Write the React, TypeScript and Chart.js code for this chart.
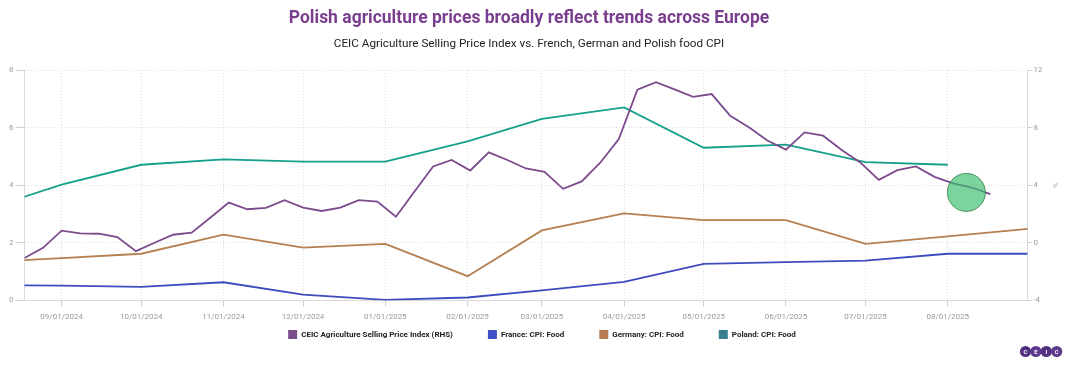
import React, { useEffect, useRef } from 'react';
import { Chart, registerables } from 'chart.js';

Chart.register(...registerables);

const titleText = 'Polish agriculture prices broadly reflect trends across Europe';
const subtitleText = 'CEIC Agriculture Selling Price Index vs. French, German and Polish food CPI';

const seriesNames = [
  'CEIC Agriculture Selling Price Index (RHS)',
  'France: CPI: Food',
  'Germany: CPI: Food',
  'Poland: CPI: Food',
];
const lineColors = ['#7b4b8e', '#3d4bbf', '#b57f50', '#14a08c'];
const legendColors = ['#7a4f8c', '#4150c8', '#b97c52', '#3a7f91'];

// weekly agriculture selling price index (RHS, % y/y)
const agriDates = [
  '2024-08-18', '2024-08-25', '2024-09-01', '2024-09-08', '2024-09-15', '2024-09-22', '2024-09-29',
  '2024-10-06', '2024-10-13', '2024-10-20', '2024-10-27', '2024-11-03', '2024-11-10', '2024-11-17',
  '2024-11-24', '2024-12-01', '2024-12-08', '2024-12-15', '2024-12-22', '2024-12-29', '2025-01-05',
  '2025-01-12', '2025-01-19', '2025-01-26', '2025-02-02', '2025-02-09', '2025-02-16', '2025-02-23',
  '2025-03-02', '2025-03-09', '2025-03-16', '2025-03-23', '2025-03-30', '2025-04-06', '2025-04-13',
  '2025-04-20', '2025-04-27', '2025-05-04', '2025-05-11', '2025-05-18', '2025-05-25', '2025-06-01',
  '2025-06-08', '2025-06-15', '2025-06-22', '2025-06-29', '2025-07-06', '2025-07-13', '2025-07-20',
  '2025-07-27', '2025-08-03', '2025-08-10', '2025-08-17',
];
const agriValues = [
  -1.05, -0.35, 0.84, 0.65, 0.63, 0.4, -0.58, 0.0, 0.56, 0.7,
  1.74, 2.79, 2.33, 2.42, 2.96, 2.44, 2.21, 2.44, 2.96, 2.86,
  1.81, 3.56, 5.3, 5.75, 5.02, 6.28, 5.75, 5.16, 4.93, 3.75,
  4.26, 5.56, 7.21, 10.63, 11.16, 10.65, 10.14, 10.33, 8.82, 8.02,
  7.1, 6.47, 7.67, 7.44, 6.45, 5.58, 4.37, 5.05, 5.3, 4.58,
  4.12, 3.84, 3.38,
];

// monthly food CPI (LHS, % y/y)
const cpiDates = [
  '2024-08-01', '2024-09-01', '2024-10-01', '2024-11-01', '2024-12-01', '2025-01-01', '2025-02-01',
  '2025-03-01', '2025-04-01', '2025-05-01', '2025-06-01', '2025-07-01', '2025-08-01', '2025-09-01',
];
const franceCpi = [0.53, 0.51, 0.47, 0.63, 0.2, 0.02, 0.1, 0.35, 0.64, 1.27, 1.33, 1.38, 1.62, 1.62];
const germanyCpi = [1.31, 1.47, 1.62, 2.28, 1.83, 1.96, 0.84, 2.43, 3.02, 2.79, 2.79, 1.96, 2.22, 2.49];
const polandCpi = [3.09, 4.02, 4.71, 4.9, 4.82, 4.82, 5.52, 6.3, 6.7, 5.3, 5.41, 4.8, 4.71, null];

// highlight marker
const highlightDate = '2025-08-08';
const highlightValue = 3.5;

// x axis
const xMinDate = '2024-08-18';
const xMaxDate = '2025-08-31';
const tickDates = [
  '2024-09-01', '2024-10-01', '2024-11-01', '2024-12-01', '2025-01-01', '2025-02-01',
  '2025-03-01', '2025-04-01', '2025-05-01', '2025-06-01', '2025-07-01', '2025-08-01',
];

const toMs = (d: string) => {
  const [y, m, day] = d.split('-').map(Number);
  return Date.UTC(y, m - 1, day);
};
const fmtDate = (v: number) => {
  const d = new Date(v);
  const mm = String(d.getUTCMonth() + 1).padStart(2, '0');
  const dd = String(d.getUTCDate()).padStart(2, '0');
  return `${mm}/${dd}/${d.getUTCFullYear()}`;
};

const pairs = (dates: string[], vals: (number | null)[]) =>
  dates.map((d, i) => ({ x: toMs(d), y: vals[i] }));

const decorPlugin = {
  id: 'ceicDecor',
  afterDraw(chart: any) {
    const { ctx } = chart;
    ctx.save();
    // titles
    ctx.textAlign = 'center';
    ctx.textBaseline = 'middle';
    ctx.fillStyle = '#7a3e8e';
    ctx.font = 'bold 17.5px Roboto';
    ctx.fillText(titleText, 529, 18.5);
    ctx.fillStyle = '#222222';
    ctx.font = '11.7px Roboto';
    ctx.fillText(subtitleText, 529, 44.5);

    // legend
    ctx.font = 'bold 8px Roboto';
    ctx.textAlign = 'left';
    const widths = seriesNames.map((t) => ctx.measureText(t).width);
    const box = 9;
    const gap = 4;
    const itemGap = 35;
    const total = widths.reduce((s, w) => s + box + gap + w, 0) + itemGap * (seriesNames.length - 1);
    let x = 542 - total / 2;
    const y = 334.5;
    seriesNames.forEach((t, i) => {
      ctx.fillStyle = legendColors[i];
      ctx.fillRect(x, y - box / 2, box, box);
      ctx.fillStyle = '#222';
      ctx.fillText(t, x + box + gap, y + 0.5);
      x += box + gap + widths[i] + itemGap;
    });

    // CEIC logo
    const letters = ['C', 'E', 'I', 'C'];
    ctx.textAlign = 'center';
    ctx.font = 'bold 6px Roboto';
    letters.forEach((l, i) => {
      const cx = 1025.5 + i * 10.4;
      const cy = 351.5;
      ctx.beginPath();
      ctx.arc(cx, cy, 5.6, 0, Math.PI * 2);
      ctx.fillStyle = i % 2 === 0 ? '#52307f' : '#5e3a8e';
      ctx.fill();
      ctx.fillStyle = '#ffffff';
      ctx.fillText(l, cx, cy + 0.5);
    });
    ctx.restore();
  },
};

export default function App() {
  const ref = useRef<HTMLCanvasElement>(null);

  useEffect(() => {
    document.body.style.margin = '0';
    if (!ref.current) return;
    const tickFont = { family: 'Roboto', size: 8 };
    const chart = new Chart(ref.current, {
      type: 'line',
      data: {
        datasets: [
          {
            label: 'highlight',
            data: [{ x: toMs(highlightDate), y: highlightValue }],
            yAxisID: 'y2',
            showLine: false,
            pointRadius: 19,
            pointBackgroundColor: 'rgba(60,190,110,0.68)',
            pointBorderColor: 'rgba(60,130,80,0.85)',
            pointBorderWidth: 1,
          },
          {
            label: seriesNames[0],
            data: pairs(agriDates, agriValues),
            yAxisID: 'y2',
            borderColor: lineColors[0],
            borderWidth: 1.8,
            pointRadius: 0,
            tension: 0,
          },
          {
            label: seriesNames[1],
            data: pairs(cpiDates, franceCpi),
            yAxisID: 'y',
            borderColor: lineColors[1],
            borderWidth: 1.8,
            pointRadius: 0,
            tension: 0,
          },
          {
            label: seriesNames[2],
            data: pairs(cpiDates, germanyCpi),
            yAxisID: 'y',
            borderColor: lineColors[2],
            borderWidth: 1.8,
            pointRadius: 0,
            tension: 0,
          },
          {
            label: seriesNames[3],
            data: pairs(cpiDates, polandCpi),
            yAxisID: 'y',
            borderColor: lineColors[3],
            borderWidth: 1.8,
            pointRadius: 0,
            tension: 0,
          },
        ],
      },
      options: {
        responsive: false,
        animation: false,
        devicePixelRatio: 1,
        events: [],
        layout: { padding: { left: 7, right: 3, top: 70, bottom: 37 } },
        plugins: {
          legend: { display: false },
          tooltip: { enabled: false },
          title: { display: false },
          subtitle: { display: false },
        },
        scales: {
          x: {
            type: 'linear',
            min: toMs(xMinDate),
            max: toMs(xMaxDate),
            afterBuildTicks: (scale: any) => {
              scale.ticks = tickDates.map((d) => ({ value: toMs(d) }));
            },
            ticks: {
              callback: (v: any) => fmtDate(Number(v)),
              color: '#9a9a9a',
              font: tickFont,
              padding: 6,
              maxRotation: 0,
              autoSkip: false,
            },
            grid: {
              color: '#dddddd',
              lineWidth: 1,
              tickLength: 6,
              tickColor: '#d0d0d0',
              tickBorderDash: [],
            },
            border: { display: true, color: '#d9d9d9', width: 1, dash: [1, 2] },
          },
          y: {
            position: 'left',
            min: 0,
            max: 8,
            ticks: { stepSize: 2, color: '#9a9a9a', font: tickFont, padding: 2 },
            grid: {
              color: '#dddddd',
              lineWidth: 1,
              tickLength: 9,
              tickColor: '#d0d0d0',
              tickBorderDash: [],
            },
            border: { display: true, color: '#d9d9d9', width: 1, dash: [1, 2] },
          },
          y2: {
            position: 'right',
            min: -4,
            max: 12,
            ticks: { stepSize: 4, color: '#9a9a9a', font: tickFont, padding: 1 },
            grid: {
              drawOnChartArea: false,
              tickLength: 5,
              tickColor: '#d0d0d0',
              tickBorderDash: [],
            },
            border: { display: true, color: '#d9d9d9', width: 1 },
            title: {
              display: true,
              text: '%',
              color: '#aaaaaa',
              font: { family: 'Roboto', size: 8 },
              padding: 7,
            },
          },
        },
      },
      plugins: [decorPlugin],
    } as any);
    return () => chart.destroy();
  }, []);

  return (
    <div style={{ width: 1070, height: 365 }}>
      <canvas ref={ref} width={1070} height={365} style={{ display: 'block', width: 1070, height: 365 }} />
    </div>
  );
}
